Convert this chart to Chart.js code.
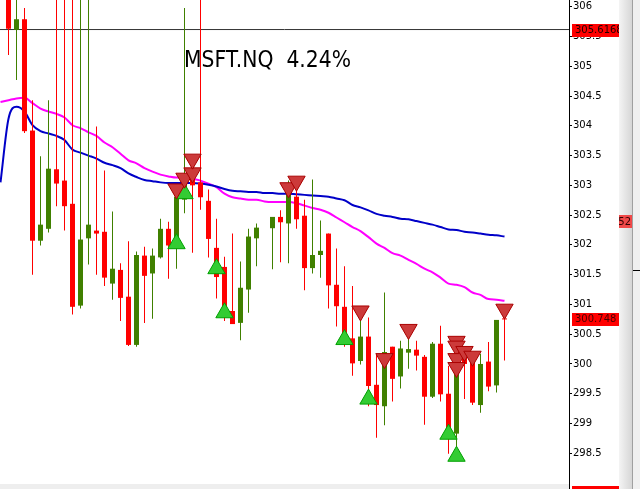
<!DOCTYPE html>
<html>
<head>
<meta charset="utf-8">
<script src="https://cdn.jsdelivr.net/npm/chart.js@4.4.0/dist/chart.umd.min.js"></script>
<style>
html, body { margin: 0; padding: 0; background: #fff; overflow: hidden; }
</style>
</head>
<body>
<canvas id="myChart" width="640" height="489"></canvas>
<script>
// candles, one per bar index (index 32 has no bar)
const opens = [
    306.30, 305.61, 305.79, 303.92, 302.07, 302.27, 303.27, 303.08, 302.69, 300.98,
    302.11, 302.24, 302.22, 301.35, 301.58, 301.13, 300.32, 301.82, 301.52, 301.79,
    302.27, 301.99, 302.76, 303.15, 303.05, 302.74, 301.95, 301.63, 300.89, 300.69,
    301.25, 302.11, null, 302.28, 302.47, 302.36, 302.81, 302.49, 301.61, 301.83,
    302.19, 301.33, 300.96, 300.43, 300.05, 300.46, 299.65, 299.29, 300.29, 299.79,
    300.19, 300.24, 300.12, 299.45, 300.34, 299.50, 298.83, 300.20, 300.14, 299.31,
    300.04, 299.64, 300.765
];
const highs = [
    306.5, 306.4, 305.98, 304.43, 303.49, 304.43, 306.5, 306.5, 306.5, 306.5,
    306.5, 303.99, 303.25, 302.56, 301.69, 302.06, 301.89, 301.97, 301.94, 302.44,
    302.39, 302.91, 305.98, 303.49, 306.5, 302.93, 302.44, 301.80, 302.19, 301.72,
    302.27, 302.36, null, 302.47, 302.58, 303.08, 303.08, 302.76, 303.10, 302.41,
    302.19, 301.94, 301.64, 301.31, 300.90, 300.78, 300.16, 301.20, 300.29, 300.39,
    300.50, 300.39, 300.15, 300.37, 300.64, 299.97, 300.39, 300.25, 300.17, 300.17,
    300.37, 300.74, 300.80
];
const lows = [
    305.19, 304.77, 303.88, 301.50, 301.99, 302.21, 302.65, 302.24, 300.83, 300.93,
    301.67, 301.50, 301.31, 301.08, 300.72, 300.30, 300.29, 300.69, 300.76, 301.77,
    301.43, 301.60, 302.53, 301.87, 302.59, 301.79, 301.10, 300.72, 300.67, 300.40,
    300.86, 301.64, null, 301.59, 301.71, 301.69, 302.27, 301.24, 301.52, 301.45,
    300.93, 300.63, 300.29, 299.80, 299.99, 299.29, 298.76, 298.97, 299.37, 299.59,
    299.92, 299.89, 298.98, 299.43, 299.37, 298.49, 298.60, 299.41, 299.31, 299.18,
    299.54, 299.52, 300.06
];
const closes = [
    305.63, 305.79, 303.91, 302.07, 302.34, 303.28, 303.03, 302.65, 300.96, 302.09,
    302.34, 302.19, 301.45, 301.60, 301.11, 300.32, 301.83, 301.48, 301.82, 302.27,
    301.99, 302.81, 303.08, 303.00, 302.80, 302.10, 301.46, 300.89, 300.67, 301.28,
    302.14, 302.29, null, 302.47, 302.38, 302.91, 302.43, 301.61, 301.83, 301.90,
    301.32, 300.97, 300.44, 300.01, 300.46, 299.63, 299.31, 300.20, 299.75, 300.26,
    300.25, 300.14, 299.45, 300.34, 299.49, 298.83, 300.17, 300.00, 299.35, 300.00,
    299.62, 300.74, 300.748
];

// moving averages, starting one bar before the first candle (index -1)
const maStart = -1;
const maMagenta = [
    304.40, 304.43, 304.46, 304.47, 304.38, 304.29, 304.24, 304.20, 304.14, 304.01,
    303.96, 303.89, 303.83, 303.72, 303.64, 303.53, 303.42, 303.37, 303.29, 303.23,
    303.18, 303.15, 303.13, 303.13, 303.11, 303.08, 303.03, 302.97, 302.86, 302.80,
    302.78, 302.76, 302.76, 302.73, 302.72, 302.72, 302.72, 302.70, 302.66, 302.62,
    302.59, 302.54, 302.46, 302.38, 302.30, 302.23, 302.13, 302.02, 301.95, 301.86,
    301.82, 301.75, 301.68, 301.60, 301.54, 301.45, 301.35, 301.33, 301.29, 301.20,
    301.16, 301.09, 301.08, 301.06
];
const maBlue = [
    303.05, 304.12, 304.32, 304.24, 304.01, 303.91, 303.87, 303.83, 303.76, 303.60,
    303.55, 303.50, 303.45, 303.38, 303.34, 303.29, 303.20, 303.14, 303.09, 303.07,
    303.05, 303.04, 303.04, 303.04, 303.04, 303.03, 303.01, 302.98, 302.94, 302.91,
    302.90, 302.89, 302.89, 302.87, 302.87, 302.86, 302.86, 302.85, 302.84, 302.83,
    302.82, 302.81, 302.78, 302.75, 302.67, 302.63, 302.58, 302.52, 302.49, 302.47,
    302.44, 302.43, 302.40, 302.37, 302.34, 302.30, 302.26, 302.25, 302.22, 302.21,
    302.19, 302.17, 302.16, 302.14
];

// arrow marks
const sellIdx   = [21, 22, 23, 23, 35, 36, 44, 47, 50, 56, 56, 56, 56, 57, 58, 62];
const sellPrice = [302.94, 303.12, 303.21, 303.44, 302.96, 303.07, 300.89, 300.09, 300.58,
                   300.38, 300.30, 300.09, 299.94, 300.21, 300.13, 300.92];
const buyIdx    = [21, 22, 26, 27, 42, 45, 55, 56];
const buyPrice  = [302.02, 302.86, 301.60, 300.86, 300.41, 299.41, 298.82, 298.45];

const yTicks = [298.5, 299, 299.5, 300, 300.5, 301, 301.5, 302, 302.5, 303, 303.5, 304, 304.5, 305, 305.5, 306];
const titleText = 'MSFT.NQ  4.24%';
const levelPrice = 305.6168;
const lastPrice = 300.748;

const xMin = -1.0625, xMax = 70.0625;
const yMin = 297.9, yMax = 306.113;

const upColor = '#408000';
const downColor = '#ff0000';

// build candle bodies and wicks
const bodies = [], wicks = [];
for (let i = 0; i < opens.length; i++) {
    if (opens[i] === null) continue;
    const up = closes[i] >= opens[i];
    bodies.push({ x: i, y: [Math.min(opens[i], closes[i]), Math.max(opens[i], closes[i])], up: up });
    wicks.push({ x: i, y: [lows[i], highs[i]], up: up });
}
const magentaPts = maMagenta.map((v, k) => ({ x: maStart + k, y: v }));
const bluePts = maBlue.map((v, k) => ({ x: maStart + k, y: v }));
const sellPts = sellIdx.map((x, k) => ({ x: x, y: sellPrice[k] }));
const buyPts = buyIdx.map((x, k) => ({ x: x, y: buyPrice[k] }));

const candleColor = ctx => (ctx.raw && ctx.raw.up) ? upColor : downColor;

// title, price tags and the terminal chrome on the right
const overlay = {
    id: 'overlay',
    beforeDraw(chart) {
        const ctx = chart.ctx;
        ctx.save();
        ctx.fillStyle = '#fff';
        ctx.fillRect(0, 0, chart.width, chart.height);
        ctx.restore();
    },
    afterDraw(chart) {
        const ctx = chart.ctx;
        const ys = chart.scales.y;
        ctx.save();

        ctx.fillStyle = '#000';
        ctx.font = '23px "DejaVu Sans"';
        ctx.textBaseline = 'alphabetic';
        ctx.textAlign = 'left';
        ctx.fillText(titleText, 184, 66.5, 167);

        function tag(val, text, fill, color) {
            const py = Math.round(ys.getPixelForValue(val));
            ctx.fillStyle = fill;
            ctx.fillRect(572, py - 6, 48, 13);
            ctx.fillStyle = color;
            ctx.font = '10px "DejaVu Sans"';
            ctx.textBaseline = 'middle';
            ctx.fillText(text, 575, py + 0.5);
        }
        tag(levelPrice, '305.6168', '#ff0000', '#200000');
        tag(lastPrice, '300.748', '#ff0000', '#4a0000');
        ctx.fillStyle = '#ff0000';
        ctx.fillRect(572, 486, 47, 3);

        // right side frame
        const g = ctx.createLinearGradient(619, 0, 632, 0);
        g.addColorStop(0, '#f4f4f4');
        g.addColorStop(1, '#d6d6d6');
        ctx.fillStyle = g;
        ctx.fillRect(619, 0, 13, chart.height);
        ctx.fillStyle = '#a0a0a0';
        ctx.fillRect(632, 0, 1, chart.height);
        ctx.fillStyle = '#f0f0f0';
        ctx.fillRect(633, 0, 7, chart.height);
        ctx.fillStyle = '#000';
        ctx.fillRect(633, 270, 7, 1);

        ctx.fillStyle = '#f04848';
        ctx.fillRect(619, 215, 13, 13);
        ctx.fillStyle = '#300000';
        ctx.font = '10px "DejaVu Sans"';
        ctx.textBaseline = 'middle';
        ctx.textAlign = 'right';
        ctx.fillText('52', 631, 222);

        // bottom frame strip
        ctx.fillStyle = '#eeeeee';
        ctx.fillRect(0, 484, 569, 5);
        ctx.restore();
    }
};

var ctx = document.getElementById('myChart').getContext('2d');
var myChart = new Chart(ctx, {
    type: 'bar',
    data: {
        datasets: [
            {
                type: 'line',
                data: [{ x: xMin, y: levelPrice }, { x: xMax, y: levelPrice }],
                borderColor: '#333333',
                borderWidth: 1,
                pointRadius: 0,
                order: 6
            },
            {
                type: 'line',
                data: magentaPts,
                borderColor: '#ff00ff',
                borderWidth: 2,
                pointRadius: 0,
                cubicInterpolationMode: 'monotone',
                order: 5
            },
            {
                type: 'line',
                data: bluePts,
                borderColor: '#0000c8',
                borderWidth: 2,
                pointRadius: 0,
                cubicInterpolationMode: 'monotone',
                order: 4
            },
            {
                data: wicks,
                backgroundColor: candleColor,
                barThickness: 1,
                grouped: false,
                inflateAmount: 0,
                borderWidth: 0,
                order: 3
            },
            {
                data: bodies,
                backgroundColor: candleColor,
                barThickness: 5,
                grouped: false,
                inflateAmount: 0,
                borderWidth: 0,
                order: 2
            },
            {
                type: 'line',
                data: buyPts,
                showLine: false,
                pointStyle: 'triangle',
                pointRadius: 10,
                pointBackgroundColor: '#33cc33',
                pointBorderColor: '#00a000',
                pointBorderWidth: 1,
                order: 1
            },
            {
                type: 'line',
                data: sellPts,
                showLine: false,
                pointStyle: 'triangle',
                pointRotation: 180,
                pointRadius: 10,
                pointBackgroundColor: '#cc3a3a',
                pointBorderColor: '#aa0000',
                pointBorderWidth: 1,
                order: 0
            }
        ]
    },
    options: {
        responsive: false,
        animation: false,
        layout: { padding: 0, autoPadding: false },
        plugins: { legend: { display: false }, tooltip: { enabled: false } },
        scales: {
            x: {
                type: 'linear',
                min: xMin,
                max: xMax,
                offset: false,
                display: false
            },
            y: {
                position: 'right',
                min: yMin,
                max: yMax,
                afterFit(scale) {
                    scale.width = 71;
                    scale.paddingTop = 0;
                    scale.paddingBottom = 0;
                },
                afterBuildTicks(scale) {
                    scale.ticks = yTicks.map(v => ({ value: v }));
                },
                border: { color: '#000000', width: 1 },
                grid: { drawOnChartArea: false, drawTicks: true, tickLength: 3, tickColor: '#000000' },
                ticks: {
                    padding: 1,
                    color: '#000000',
                    font: { family: 'DejaVu Sans', size: 10 },
                    callback: v => String(v)
                }
            }
        }
    },
    plugins: [overlay]
});
</script>
</body>
</html>
